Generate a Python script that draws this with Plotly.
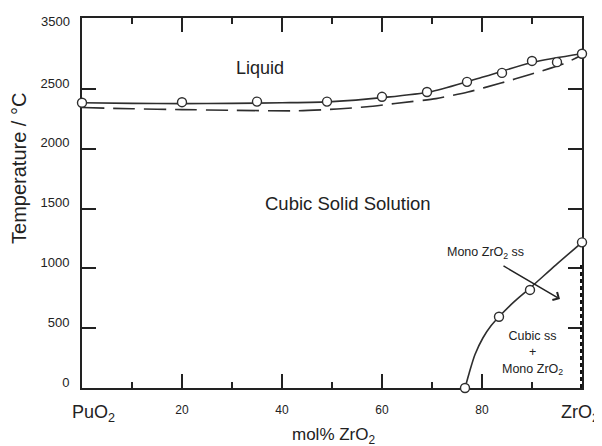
import plotly.graph_objects as go

# liquidus (solid curve) and its measured points
liq_x = [0, 10, 20, 30, 40, 50, 60, 70, 80, 90, 100]
liq_y = [2385, 2380, 2378, 2380, 2385, 2395, 2428, 2480, 2598, 2722, 2795]
liq_pts_x = [0, 20, 35, 49, 60, 69, 77, 84, 90, 95, 100]
liq_pts_y = [2385, 2390, 2395, 2395, 2435, 2475, 2560, 2635, 2735, 2725, 2795]

# solidus (dashed curve)
sol_x = [0, 10, 20, 30, 43, 51, 57, 62.6, 70.8, 77.2, 83.8, 89.6, 96.2, 100]
sol_y = [2345, 2335, 2328, 2322, 2318, 2333, 2352, 2379, 2420, 2475, 2550, 2621, 2709, 2784]

# cubic / monoclinic boundary
mono_x = [76.6, 77.4, 78.6, 80.2, 81.8, 83.4, 86.5, 89.6, 94.8, 100]
mono_y = [0, 120, 280, 420, 520, 596, 725, 836, 1030, 1218]
mono_pts_x = [76.6, 83.4, 89.6, 100]
mono_pts_y = [0, 596, 820, 1218]

# two-phase edge at pure ZrO2
edge_x = [100, 100]
edge_y = [0, 1045]

x_ticks = [20, 40, 60, 80]
x_minor = [10, 30, 50, 70, 90]
y_top = 3094
y_ticks = [0, 500, 1000, 1500, 2000, 2500]
y_top_label = "3500"

INK = "#222222"
LINE = "#2e2e2e"
FONT = "Arial, Liberation Sans, sans-serif"

fig = go.Figure()

fig.add_trace(go.Scatter(
    x=liq_x, y=liq_y, mode="lines",
    line=dict(color=LINE, width=1.6, shape="spline", smoothing=0.8),
))
fig.add_trace(go.Scatter(
    x=sol_x, y=sol_y, mode="lines",
    line=dict(color=LINE, width=1.6, dash="22px,9px", shape="spline", smoothing=0.6),
))
fig.add_trace(go.Scatter(
    x=mono_x, y=mono_y, mode="lines",
    line=dict(color=LINE, width=1.6, shape="spline", smoothing=0.8),
))
fig.add_trace(go.Scatter(
    x=edge_x, y=edge_y, mode="lines",
    line=dict(color="#111111", width=4, dash="4px,3px"),
))
for px, py in [(liq_pts_x, liq_pts_y), (mono_pts_x, mono_pts_y)]:
    fig.add_trace(go.Scatter(
        x=px, y=py, mode="markers", cliponaxis=False,
        marker=dict(size=9, color="white", line=dict(color=LINE, width=1.4)),
    ))

notes = [
    dict(x=35.6, y=2676, text="Liquid", font=dict(size=18)),
    dict(x=53.1, y=1547, text="Cubic Solid Solution", font=dict(size=18.5)),
    dict(x=80.6, y=1129, text="Mono ZrO<sub>2</sub> ss", font=dict(size=12.5)),
    dict(x=90.0, y=290, text="Cubic ss<br>+<br>Mono ZrO<sub>2</sub>", font=dict(size=12.5)),
]
for n in notes:
    fig.add_annotation(xref="x", yref="y", showarrow=False,
                       xanchor="center", yanchor="middle", **n)

fig.add_annotation(
    x=95.6, y=744, ax=84, ay=1028, axref="x", ayref="y",
    xref="x", yref="y", text="", showarrow=True,
    arrowhead=4, arrowsize=1.2, arrowwidth=1.5, arrowcolor=INK,
)

# top label of the temperature axis sits just under the frame
fig.add_annotation(x=-0.02, y=y_top, xref="paper", yref="y", text=y_top_label,
                   showarrow=False, xanchor="right", yanchor="middle", yshift=-3,
                   font=dict(size=13))

outer = [
    dict(x=2.2, y=-0.068, xref="x", text="PuO<sub>2</sub>", font=dict(size=18)),
    dict(x=99.6, y=-0.068, xref="x", text="ZrO<sub>2</sub>", font=dict(size=18)),
    dict(x=50.4, y=-0.13, xref="x", text="mol% ZrO<sub>2</sub>", font=dict(size=17)),
    dict(x=-0.126, y=0.592, xref="paper", text="Temperature / °C",
         textangle=-90, font=dict(size=20)),
]
for n in outer:
    fig.add_annotation(yref="paper", showarrow=False,
                       xanchor="center", yanchor="middle", **n)

# the page body adds an 8px offset, so the canvas is trimmed by that much
fig.update_layout(
    width=594, height=438,
    margin=dict(l=74, r=20, t=10, b=58, autoexpand=False),
    plot_bgcolor="white", paper_bgcolor="white",
    showlegend=False,
    font=dict(family=FONT, color=INK),
    xaxis=dict(
        range=[0, 100], tickvals=x_ticks, ticks="inside", ticklen=14, tickwidth=2,
        tickcolor=INK, showline=True, linecolor=INK, linewidth=2, mirror="ticks",
        showgrid=False, zeroline=False, layer="below traces", automargin=False,
        tickfont=dict(size=12), ticklabelstandoff=10,
        minor=dict(tickvals=x_minor, ticks="inside", ticklen=6, tickwidth=2, tickcolor=INK),
    ),
    yaxis=dict(
        range=[0, y_top], tickvals=y_ticks, ticks="inside",
        ticklen=14, tickwidth=2, tickcolor=INK, showline=True, linecolor=INK,
        linewidth=2, mirror="ticks", showgrid=False, zeroline=False,
        layer="below traces", automargin=False, tickfont=dict(size=13),
        ticklabelstandoff=8, ticklabelshift=-6, ticklabeloverflow="allow",
    ),
)

fig.write_html("out.html")
